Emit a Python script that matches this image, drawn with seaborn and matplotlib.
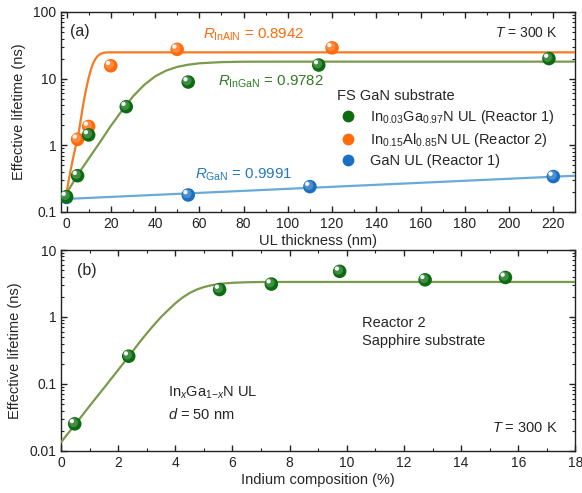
import numpy as np
import pandas as pd
import matplotlib
matplotlib.use("Agg")
import matplotlib.pyplot as plt
from matplotlib.transforms import ScaledTranslation
from matplotlib.ticker import LogLocator, MultipleLocator, NullFormatter, FuncFormatter
from matplotlib.lines import Line2D
import seaborn as sns

# ---------------- data ----------------
# Panel (a): effective lifetime vs UL thickness
ingan_d = [0, 5, 10, 27, 55, 114, 218]
ingan_tau = [0.17, 0.35, 1.43, 3.8, 8.9, 16.0, 20.0]
inaln_d = [5, 10, 20, 50, 120]
inaln_tau = [1.23, 1.92, 15.6, 27.5, 29.0]
gan_d = [0, 55, 110, 220]
gan_tau = [0.165, 0.18, 0.24, 0.34]

# fit curves
fit_ingan_d = [0, 5, 10, 15, 20, 25, 30, 35, 40, 45, 50, 55, 60, 70, 80, 100, 230]
fit_ingan_tau = [0.19, 0.36, 0.63, 1.1, 1.95, 3.3, 5.4, 8.0, 10.8, 13.2, 15.0, 16.2, 17.0, 17.7, 17.95, 18.0, 18.0]
fit_inaln_d = [0, 1, 2, 3, 4, 5, 6, 7, 8, 9, 10, 11, 12, 13, 14, 15, 16, 17, 18, 20, 230]
fit_inaln_tau = [0.19, 0.3, 0.45, 0.65, 0.92, 1.28, 1.95, 3.2, 5.0, 7.3, 10.3, 13.6, 16.9, 19.6,
                 21.7, 23.1, 24.0, 24.5, 24.7, 24.8, 24.8]
fit_gan_d = [0, 230]
fit_gan_tau = [0.157, 0.35]

# Panel (b): effective lifetime vs indium composition
comp_x = [0.48, 2.37, 5.55, 7.36, 9.75, 12.74, 15.55]
comp_tau = [0.0254, 0.26, 2.57, 3.1, 4.8, 3.59, 3.89]
fit_comp_x = [0, 0.5, 1.0, 1.5, 2.0, 2.5, 2.75, 3.0, 3.25, 3.5, 3.75, 4.0, 4.25, 4.5, 4.75,
              5.0, 5.25, 5.5, 5.75, 6.0, 6.5, 7.0, 8.0, 18.0]
fit_comp_tau = [0.0135, 0.025, 0.047, 0.087, 0.162, 0.305, 0.42, 0.57, 0.76, 1.0, 1.27, 1.6,
                1.95, 2.28, 2.57, 2.8, 2.97, 3.09, 3.18, 3.24, 3.3, 3.33, 3.335, 3.335]

r_labels = {"InAlN": "0.8942", "InGaN": "0.9782", "GaN": "0.9991"}

# ---------------- style ----------------
sns.set_style("ticks")
plt.rcParams["font.family"] = ["Liberation Sans", "DejaVu Sans"]
plt.rcParams["mathtext.fontset"] = "custom"
plt.rcParams["mathtext.rm"] = "Liberation Sans"
plt.rcParams["mathtext.it"] = "Liberation Sans:italic"
plt.rcParams["mathtext.default"] = "regular"
plt.rcParams["axes.linewidth"] = 1.0

ORANGE = "#ff6a0a"
ORANGE_LINE = "#f47b20"
GREEN = "#0d6b10"
GREEN_LINE = "#7a9a4c"
GREEN_TXT = "#2e7d20"
BLUE = "#1a6fc0"
BLUE_LINE = "#6aaad8"
BLUE_TXT = "#2379bd"

fig = plt.figure(figsize=(5.82, 4.93), dpi=100)
ax1 = fig.add_axes([0.1048, 0.570, 0.884, 0.4057])
ax2 = fig.add_axes([0.1048, 0.0852, 0.884, 0.4077])


def lighten(c, f):
    rgb = np.array(matplotlib.colors.to_rgb(c))
    return tuple(rgb + (1 - rgb) * f)


def spheres(ax, x, y, color, s=95):
    df = pd.DataFrame({"x": x, "y": y})
    layers = [
        (s, color, 0.0, 0.0, 1.0),
        (s * 0.45, lighten(color, 0.25), -0.9, 0.9, 0.9),
        (s * 0.10, "white", -2.0, 2.0, 0.95),
    ]
    for size, col, dx, dy, a in layers:
        n0 = len(ax.collections)
        sns.scatterplot(data=df, x="x", y="y", ax=ax, s=size, color=col,
                        edgecolor="none", linewidth=0, alpha=a, zorder=5, legend=False)
        coll = ax.collections[n0]
        coll.set_offset_transform(ax.transData + ScaledTranslation(dx / 72, dy / 72, fig.dpi_scale_trans))


def fitline(ax, x, y, color):
    df = pd.DataFrame({"x": x, "y": y})
    sns.lineplot(data=df, x="x", y="y", ax=ax, color=color, lw=1.6, zorder=3,
                 estimator=None, sort=False, legend=False)


# ---------------- panel (a) ----------------
ax1.set_yscale("log")
fitline(ax1, fit_gan_d, fit_gan_tau, BLUE_LINE)
fitline(ax1, fit_ingan_d, fit_ingan_tau, GREEN_LINE)
fitline(ax1, fit_inaln_d, fit_inaln_tau, ORANGE_LINE)
spheres(ax1, gan_d, gan_tau, BLUE)
spheres(ax1, inaln_d, inaln_tau, ORANGE)
spheres(ax1, ingan_d, ingan_tau, GREEN)

ax1.set_xlim(-2.5, 230)
ax1.set_ylim(0.1, 100)
ax1.xaxis.set_major_locator(MultipleLocator(20))
ax1.xaxis.set_minor_locator(MultipleLocator(10))
ax1.yaxis.set_major_locator(LogLocator(base=10, numticks=10))
ax1.yaxis.set_minor_locator(LogLocator(base=10, subs=np.arange(2, 10), numticks=20))
ax1.yaxis.set_minor_formatter(NullFormatter())
ax1.yaxis.set_major_formatter(FuncFormatter(lambda v, p: f"{v:g}"))
ax1.set_xlabel("UL thickness (nm)", fontsize=10.5, labelpad=2.5)
ax1.set_ylabel("Effective lifetime (ns)", fontsize=10.5, labelpad=5)

ax1.text(0.018, 0.9, "(a)", transform=ax1.transAxes, fontsize=11.5, va="center")
ax1.text(0.965, 0.895, r"$\mathit{T}$ = 300 K", transform=ax1.transAxes, fontsize=10, ha="right", va="center")
ax1.text(0.276, 0.885, r"$\mathit{R}_{\mathrm{InAlN}}$ = " + r_labels["InAlN"], transform=ax1.transAxes,
         fontsize=10.8, color=ORANGE, va="center")
ax1.text(0.305, 0.65, r"$\mathit{R}_{\mathrm{InGaN}}$ = " + r_labels["InGaN"], transform=ax1.transAxes,
         fontsize=10.8, color=GREEN_TXT, va="center")
ax1.text(0.261, 0.185, r"$\mathit{R}_{\mathrm{GaN}}$ = " + r_labels["GaN"], transform=ax1.transAxes,
         fontsize=10.8, color=BLUE_TXT, va="center")

handles = [
    Line2D([], [], ls="none", marker="o", ms=8.5, mfc=GREEN, mec="none"),
    Line2D([], [], ls="none", marker="o", ms=8.5, mfc=ORANGE, mec="none"),
    Line2D([], [], ls="none", marker="o", ms=8.5, mfc=BLUE, mec="none"),
]
labels = [
    r"In$_{0.03}$Ga$_{0.97}$N UL (Reactor 1)",
    r"In$_{0.15}$Al$_{0.85}$N UL (Reactor 2)",
    r"GaN UL (Reactor 1)",
]
leg = ax1.legend(handles, labels, title="FS GaN substrate", loc="upper left",
                 bbox_to_anchor=(0.516, 0.668), frameon=False, fontsize=10.5, title_fontsize=10.5,
                 alignment="left", handletextpad=0.7, labelspacing=0.35, borderpad=0.2,
                 handlelength=1.6)

# ---------------- panel (b) ----------------
ax2.set_yscale("log")
fitline(ax2, fit_comp_x, fit_comp_tau, GREEN_LINE)
spheres(ax2, comp_x, comp_tau, GREEN)
ax2.set_xlim(0, 18)
ax2.set_ylim(0.01, 10)
ax2.xaxis.set_major_locator(MultipleLocator(2))
ax2.xaxis.set_minor_locator(MultipleLocator(1))
ax2.yaxis.set_major_locator(LogLocator(base=10, numticks=10))
ax2.yaxis.set_minor_locator(LogLocator(base=10, subs=np.arange(2, 10), numticks=20))
ax2.yaxis.set_minor_formatter(NullFormatter())
ax2.yaxis.set_major_formatter(FuncFormatter(lambda v, p: f"{v:g}"))
ax2.set_xlabel("Indium composition (%)", fontsize=10.5, labelpad=2.5)
ax2.set_ylabel("Effective lifetime (ns)", fontsize=10.5, labelpad=5)

ax2.text(0.032, 0.9, "(b)", transform=ax2.transAxes, fontsize=11.5, va="center")
ax2.text(0.585, 0.592, "Reactor 2\nSapphire substrate", transform=ax2.transAxes, fontsize=10.5,
         va="center", linespacing=1.35)
ax2.text(0.208, 0.236, "In$_{\\mathit{x}}$Ga$_{1\\mathrm{-}\\mathit{x}}$N UL\n$\\mathit{d}$ = 50 nm",
         transform=ax2.transAxes, fontsize=10.5, va="center", linespacing=1.5)
ax2.text(0.965, 0.115, r"$\mathit{T}$ = 300 K", transform=ax2.transAxes, fontsize=10.5, ha="right", va="center")

for ax in (ax1, ax2):
    ax.tick_params(which="both", direction="in", top=True, right=True, labelsize=10, colors="#222222")
    ax.tick_params(which="major", length=4, width=1)
    ax.tick_params(which="minor", length=2.2, width=0.8)
    for sp in ax.spines.values():
        sp.set_color("#222222")

fig.savefig("out.png", dpi=100)
